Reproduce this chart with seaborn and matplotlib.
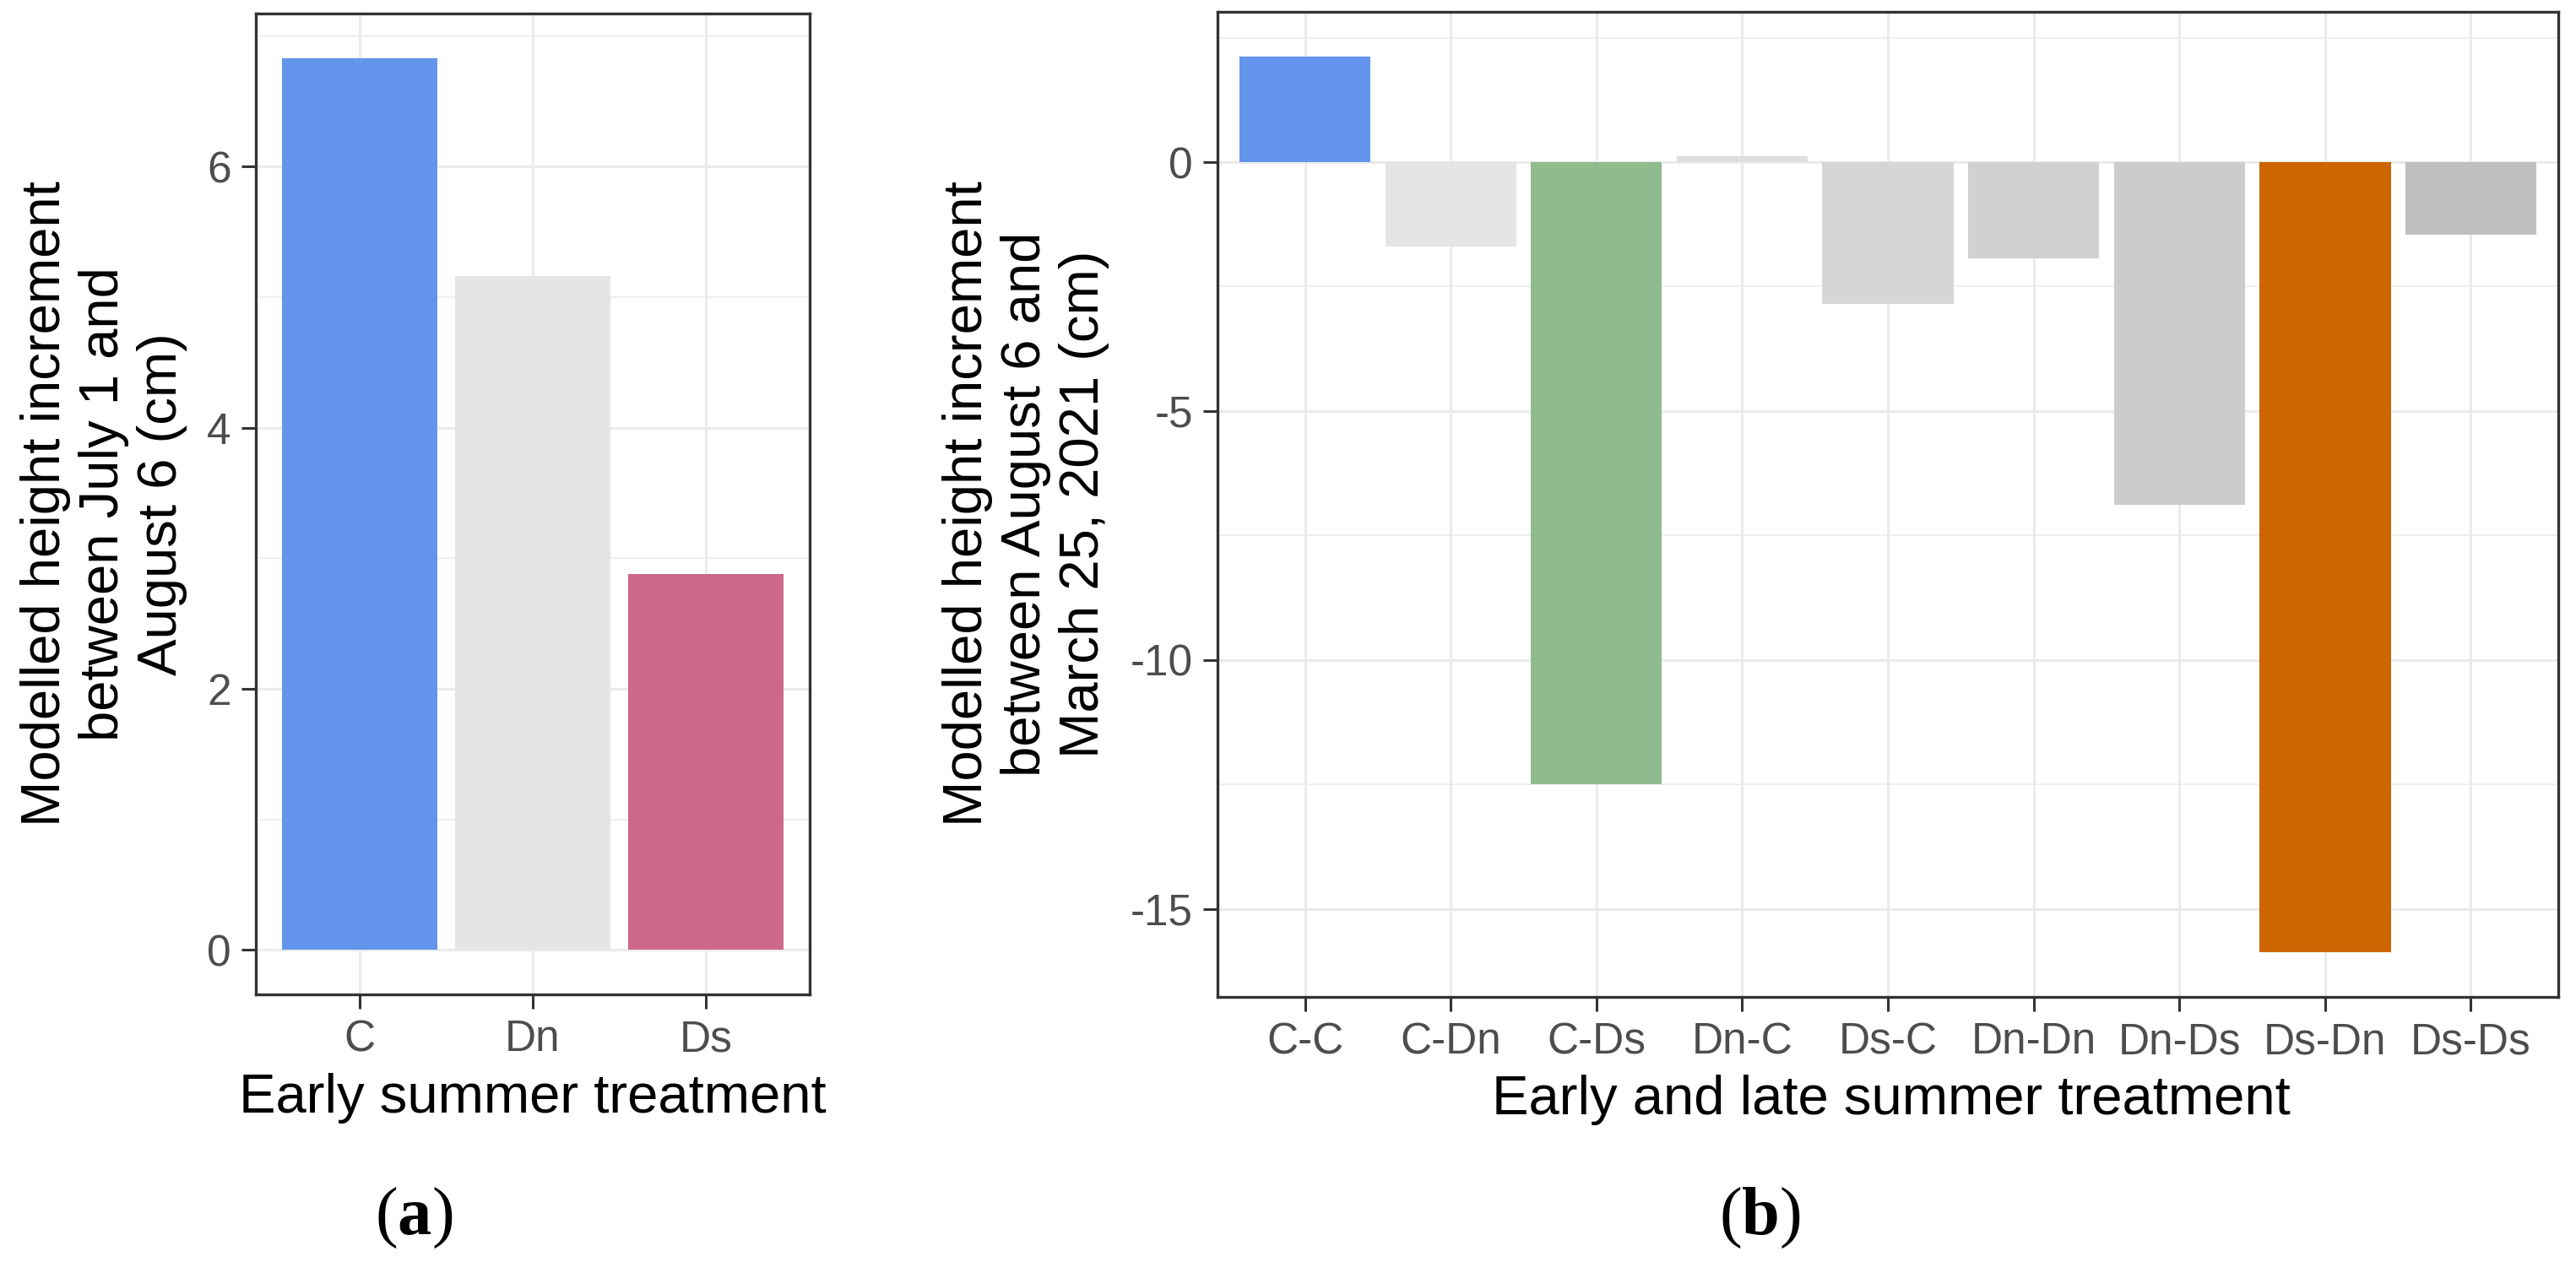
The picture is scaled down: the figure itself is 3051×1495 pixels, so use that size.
import matplotlib
matplotlib.use("Agg")
import matplotlib.pyplot as plt
import seaborn as sns
import pandas as pd
import numpy as np

# ---------------- data ----------------
cats_a = ["C", "Dn", "Ds"]
vals_a = [6.83, 5.16, 2.88]
cols_a = ["#6495ED", "#E5E5E5", "#CD6889"]
yticks_a = [0, 2, 4, 6]
yminor_a = [1, 3, 5, 7]

cats_b = ["C-C", "C-Dn", "C-Ds", "Dn-C", "Ds-C", "Dn-Dn", "Dn-Ds", "Ds-Dn", "Ds-Ds"]
vals_b = [2.12, -1.69, -12.5, 0.12, -2.85, -1.94, -6.89, -15.87, -1.45]
cols_b = ["#6495ED", "#E5E5E5", "#8FBC8F", "#DEDEDE", "#D6D6D6", "#D1D1D1",
          "#CCCCCC", "#CD6600", "#BFBFBF"]
yticks_b = [-15, -10, -5, 0]
yminor_b = [-12.5, -7.5, -2.5, 2.5]

ylab_a = "Modelled height increment\nbetween July 1 and\nAugust 6 (cm)"
ylab_b = "Modelled height increment\nbetween August 6 and\nMarch 25, 2021 (cm)"
xlab_a = "Early summer treatment"
xlab_b = "Early and late summer treatment"

# ---------------- style ----------------
sns.set_theme(style="white")
plt.rcParams['font.family'] = ['Liberation Sans', 'DejaVu Sans']
plt.rcParams['axes.unicode_minus'] = False
plt.rcParams['mathtext.fontset'] = 'custom'
plt.rcParams['mathtext.rm'] = 'Liberation Serif'
plt.rcParams['mathtext.bf'] = 'Liberation Serif:bold'

W, H = 3051, 1495
fig = plt.figure(figsize=(W / 100, H / 100), dpi=100)

def frac_box(l, r, t, b):
    return [l / W, 1 - b / H, (r - l) / W, (b - t) / H]

ax_a = fig.add_axes(frac_box(303, 959, 16, 1178))
ax_b = fig.add_axes(frac_box(1442, 3030, 14, 1181))

TICK_FS = 37
TITLE_FS = 47
GRID = "#EBEBEB"
DARK = "#333333"

def style_panel(ax, cats, vals, cols, yticks, yminor):
    df = pd.DataFrame({"cat": cats, "val": vals})
    sns.barplot(data=df, x="cat", y="val", hue="cat", palette=dict(zip(cats, cols)),
                order=cats, hue_order=cats, width=0.9, dodge=False, legend=False,
                saturation=1, ax=ax, edgecolor="none", linewidth=0)
    lo = min(0, min(vals)); hi = max(0, max(vals))
    pad = 0.05 * (hi - lo)
    ax.set_ylim(lo - pad, hi + pad)
    ax.set_xlim(-0.6, len(cats) - 0.4)
    ax.set_yticks(yticks)
    ax.set_yticklabels([str(t) for t in yticks])
    ax.set_yticks(yminor, minor=True)
    ax.set_axisbelow(True)
    ax.grid(which="major", axis="both", color=GRID, linewidth=2.2)
    ax.grid(which="minor", axis="y", color=GRID, linewidth=1.1)
    for s in ax.spines.values():
        s.set_visible(True)
        s.set_color(DARK)
        s.set_linewidth(2.4)
    ax.tick_params(which="major", length=12, width=2.2, color=DARK,
                   labelsize=TICK_FS, labelcolor="#4D4D4D", pad=9)
    ax.tick_params(which="minor", length=0)
    ax.tick_params(axis="x", bottom=True)
    ax.tick_params(axis="y", left=True)
    ax.set_xlabel("")
    ax.set_ylabel("")

style_panel(ax_a, cats_a, vals_a, cols_a, yticks_a, yminor_a)
style_panel(ax_b, cats_b, vals_b, cols_b, yticks_b, yminor_b)

# axis titles
fig.text(631 / W, 1 - 1318 / H, xlab_a, ha="center", va="baseline",
         fontsize=TITLE_FS, color="black")
fig.text(2240 / W, 1 - 1320 / H, xlab_b, ha="center", va="baseline",
         fontsize=TITLE_FS, color="black")
fig.text(123 / W, 1 - 597 / H, ylab_a, rotation=90, ha="center", va="center",
         multialignment="center", fontsize=TITLE_FS, color="black", linespacing=1.2)
fig.text(1215 / W, 1 - 597 / H, ylab_b, rotation=90, ha="center", va="center",
         multialignment="center", fontsize=TITLE_FS, color="black", linespacing=1.2)

# panel letters
fig.text(490 / W, 1 - 1462 / H, "(" + r"$\mathbf{a}$" + ")", ha="center", va="baseline",
         fontsize=58, family="Liberation Serif", color="black")
fig.text(2084 / W, 1 - 1462 / H, "(" + r"$\mathbf{b}$" + ")", ha="center", va="baseline",
         fontsize=58, family="Liberation Serif", color="black")

fig.savefig("out.png", dpi=100, facecolor="white")
